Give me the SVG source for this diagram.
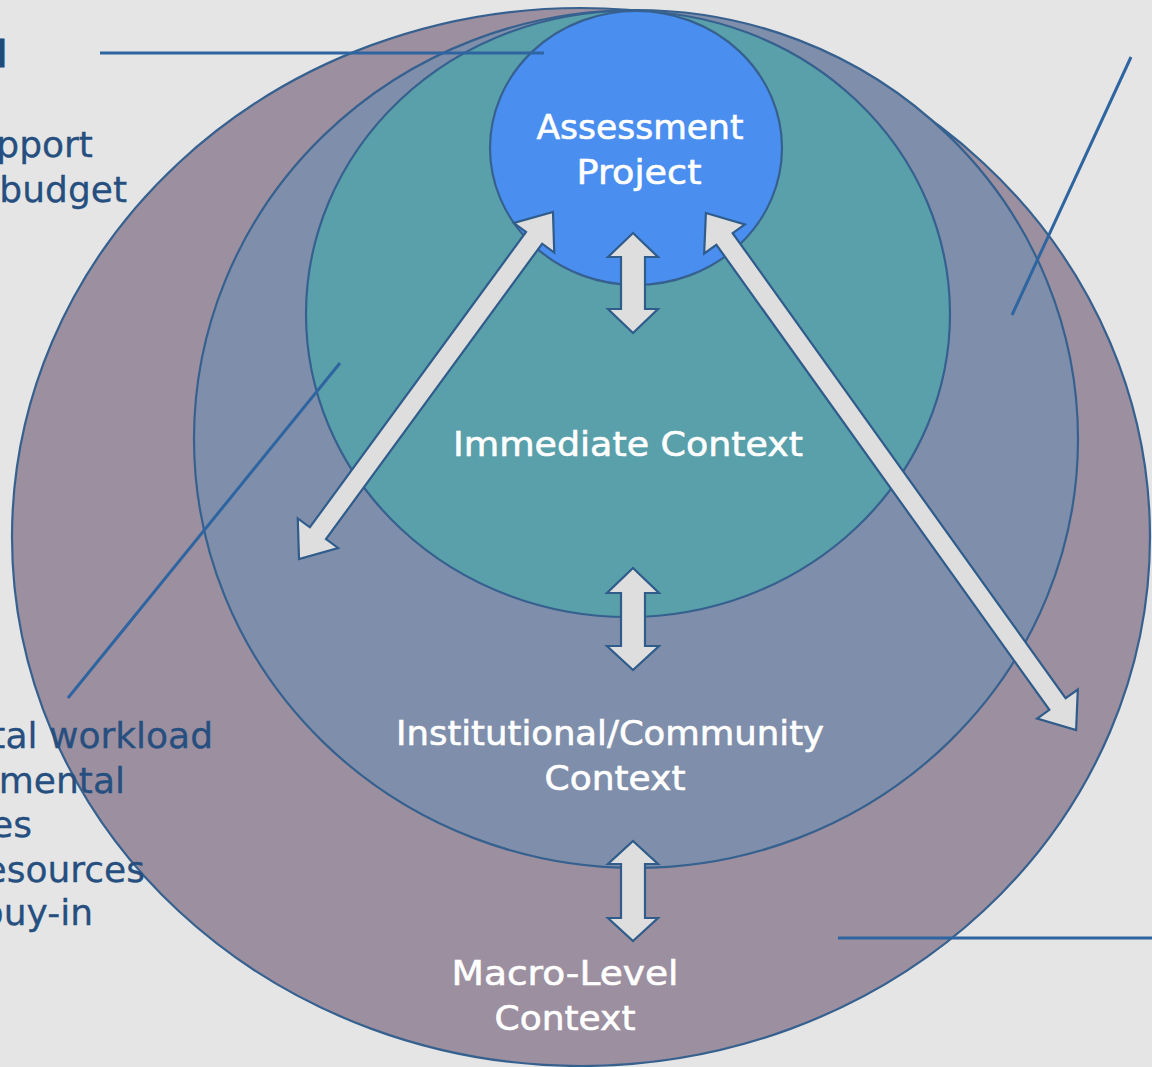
<svg xmlns="http://www.w3.org/2000/svg" width="1152" height="1067" viewBox="0 0 1152 1067">
  <style>
    .ring { stroke: #36618f; stroke-width: 2.2; }
    .arrow { fill: #dedede; stroke: #2f5c8a; stroke-width: 2.2; stroke-linejoin: miter; }
    .callout { stroke: #2e65a0; stroke-width: 3; fill: none; }
    .label { fill: #ffffff; stroke: #ffffff; stroke-width: 0.6; font-family: "DejaVu Sans", "Liberation Sans", sans-serif; font-size: 34px; text-anchor: middle; }
    .side { fill: #264f7f; stroke: #264f7f; stroke-width: 0.3; font-family: "DejaVu Sans", "Liberation Sans", sans-serif; font-size: 36px; text-anchor: end; }
  </style>
  <rect x="0" y="0" width="1152" height="1067" fill="#e5e5e5"/>

  <g id="macro">
    <ellipse class="ring" cx="581" cy="537" rx="569" ry="529" fill="#9c8fa0"/>
  </g>
  <g id="institutional">
    <ellipse class="ring" cx="636" cy="439" rx="442" ry="429" fill="#7f8fab"/>
  </g>
  <g id="immediate">
    <ellipse class="ring" cx="628" cy="314" rx="322" ry="303" fill="#5aa0ab"/>
  </g>
  <g id="assessment">
    <ellipse class="ring" cx="636" cy="148" rx="146" ry="137" fill="#4a8ef0"/>
  </g>

  <g id="connectors">
    <polygon class="arrow" points="633,233 658,257 645,257 645,309 658,309 633,333 608,309 621,309 621,257 608,257"/>
    <polygon class="arrow" points="633,568 659,593 645,593 645,646 659,646 633,670 607,646 621,646 621,593 607,593"/>
    <polygon class="arrow" points="633,841 658,864 645,864 645,918 658,918 633,941 608,918 621,918 621,864 608,864"/>
    <polygon class="arrow" transform="translate(426,385.5) rotate(-53.8)" points="-215,0 -183,-25 -183,-10 183,-10 183,-25 215,0 183,25 183,10 -183,10 -183,25"/>
    <polygon class="arrow" transform="translate(891,471.5) rotate(54.4)" points="-318,0 -286,-25 -286,-10 286,-10 286,-25 318,0 286,25 286,10 -286,10 -286,25"/>
    <line class="callout" x1="100" y1="53" x2="544" y2="53"/>
    <line class="callout" x1="1131" y1="57" x2="1012" y2="315"/>
    <line class="callout" x1="340" y1="363" x2="68" y2="698"/>
    <line class="callout" x1="838" y1="938" x2="1152" y2="938"/>
  </g>

  <g id="labels">
    <text class="label" x="640" y="139" textLength="207" lengthAdjust="spacingAndGlyphs">Assessment</text>
    <text class="label" x="639" y="184" textLength="125" lengthAdjust="spacingAndGlyphs">Project</text>
    <text class="label" x="628" y="456" textLength="350" lengthAdjust="spacingAndGlyphs">Immediate Context</text>
    <text class="label" x="610" y="745" textLength="428" lengthAdjust="spacingAndGlyphs">Institutional/Community</text>
    <text class="label" x="615" y="790" textLength="141" lengthAdjust="spacingAndGlyphs">Context</text>
    <text class="label" x="565" y="985" textLength="227" lengthAdjust="spacingAndGlyphs">Macro-Level</text>
    <text class="label" x="565" y="1030" textLength="141" lengthAdjust="spacingAndGlyphs">Context</text>
  </g>

  <g id="side-text">
    <text x="7" y="67" fill="#1f4a7a" stroke="#1f4a7a" stroke-width="1.2" font-family="DejaVu Sans, sans-serif" font-size="38" font-weight="bold" text-anchor="end">l</text>
    <text class="side" x="93" y="157">pport</text>
    <text class="side" x="127" y="202">budget</text>
    <text class="side" x="213" y="748">tal workload</text>
    <text class="side" x="125" y="793">mental</text>
    <text class="side" x="32" y="837">es</text>
    <text class="side" x="145" y="882">esources</text>
    <text class="side" x="93" y="925">buy-in</text>
  </g>
</svg>
